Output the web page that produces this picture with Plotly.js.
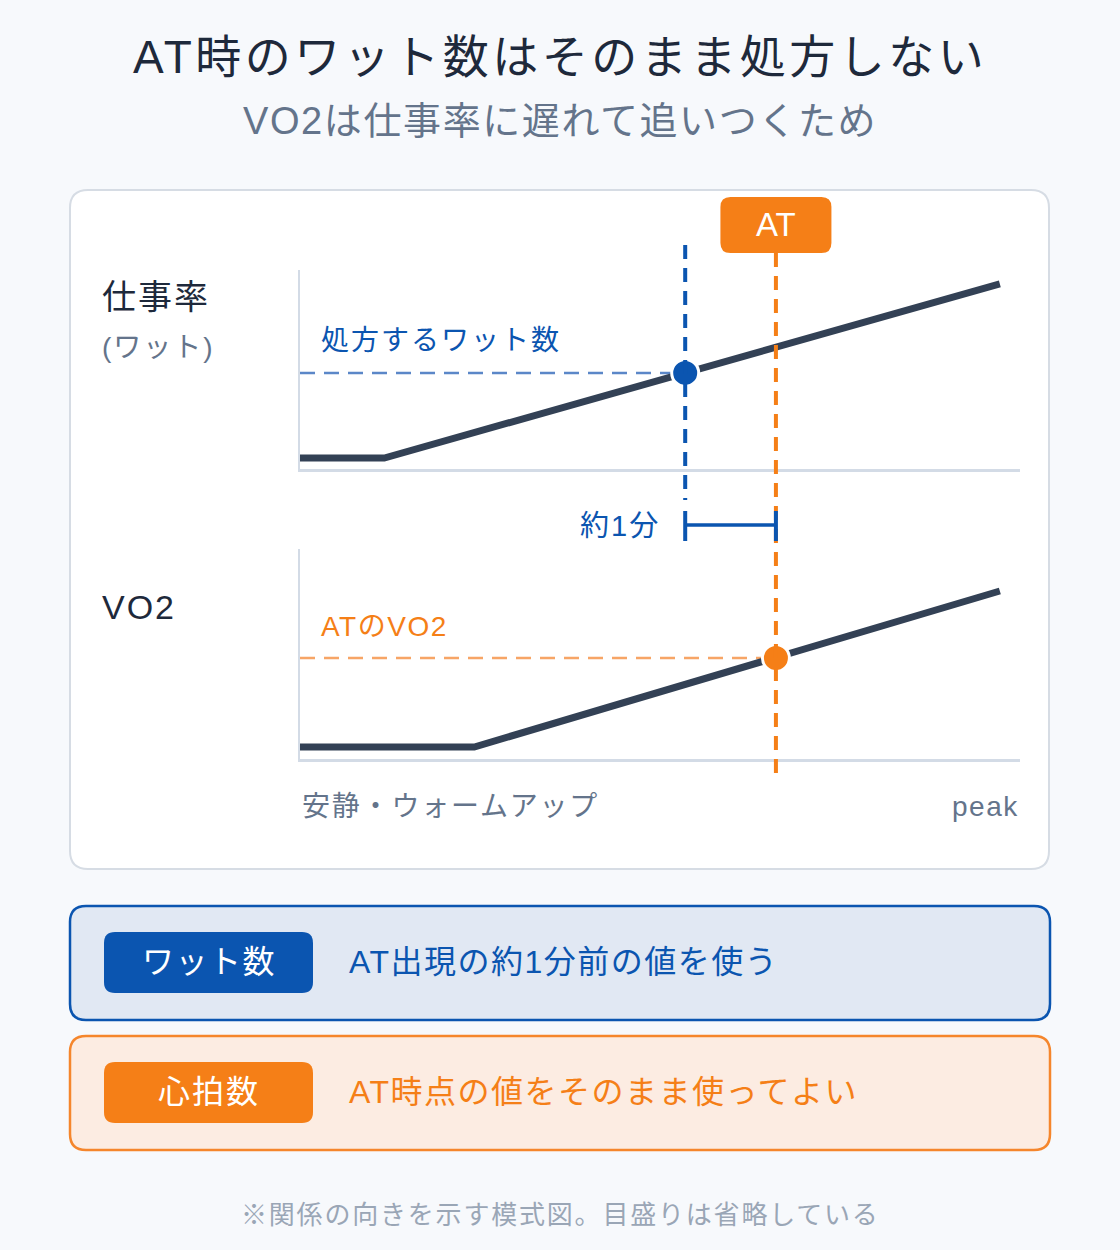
<!DOCTYPE html>
<html>
<head>
<meta charset="utf-8">
<script src="https://cdn.plot.ly/plotly-3.0.1.min.js"></script>
<style>html,body{margin:0;padding:0;background:#f7f9fc;}#chart{width:1120px;height:1250px;}</style>
</head>
<body>
<div id="chart"></div>
<script>
// ---- data (schematic, arbitrary units) ----
const workTime = [0, 1.17, 9.72];
const workRate = [0.55, 0.55, 9.30];
const vo2Time = [0, 2.42, 9.72];
const vo2Values = [0.57, 0.57, 8.00];
const atTime = [6.61];
const prescribeTime = [5.35];
const prescribedWatt = [4.83];
const atVO2 = [4.81];

// ---- texts ----
const titleText = 'AT時のワット数はそのまま処方しない';
const subtitleText = 'VO2は仕事率に遅れて追いつくため';
const topLabel = '仕事率';
const topUnit = '(ワット)';
const bottomLabel = 'VO2';
const prescribeLabel = '処方するワット数';
const atVO2Label = 'ATのVO2';
const lagLabel = '約1分';
const atBadge = 'AT';
const xStartLabel = '安静・ウォームアップ';
const xEndLabel = 'peak';
const rule1Tag = 'ワット数';
const rule1Text = 'AT出現の約1分前の値を使う';
const rule2Tag = '心拍数';
const rule2Text = 'AT時点の値をそのまま使ってよい';
const footnote = '※関係の向きを示す模式図。目盛りは省略している';

// ---- style ----
const W = 1120, H = 1250;
const FONT = '"Liberation Sans", "Noto Sans CJK JP", sans-serif';
const BLUE = '#0b55b0', ORANGE = '#f57f17', DARK = '#1e293b', GRAY = '#64748b', LINE = '#334155';
const PX = x => x / W;
const PY = y => 1 - y / H;

function rrPath(fx, fy, x0, y0, x1, y1, r) {
  return 'M' + fx(x0 + r) + ',' + fy(y0) +
    ' L' + fx(x1 - r) + ',' + fy(y0) +
    ' Q' + fx(x1) + ',' + fy(y0) + ' ' + fx(x1) + ',' + fy(y0 + r) +
    ' L' + fx(x1) + ',' + fy(y1 - r) +
    ' Q' + fx(x1) + ',' + fy(y1) + ' ' + fx(x1 - r) + ',' + fy(y1) +
    ' L' + fx(x0 + r) + ',' + fy(y1) +
    ' Q' + fx(x0) + ',' + fy(y1) + ' ' + fx(x0) + ',' + fy(y1 - r) +
    ' L' + fx(x0) + ',' + fy(y0 + r) +
    ' Q' + fx(x0) + ',' + fy(y0) + ' ' + fx(x0 + r) + ',' + fy(y0) + ' Z';
}
function box(x0, y0, x1, y1, r, fill, line, lw, layer) {
  return {type: 'path', xref: 'paper', yref: 'paper', layer: layer || 'below',
    path: rrPath(PX, PY, x0, y0, x1, y1, r), fillcolor: fill,
    line: {color: line || 'rgba(0,0,0,0)', width: lw || 0}};
}
function ls(t, s) { return '<span style="letter-spacing:' + s + 'px">' + t + '</span>'; }
function ann(text, x, y, size, color, anchor, sp) {
  return {text: ls(text, sp || 0), xref: 'paper', yref: 'paper', x: PX(x), y: PY(y),
    xanchor: anchor || 'left', yanchor: 'middle', showarrow: false,
    font: {family: FONT, size: size, color: color}};
}

const axisCommon = {showgrid: false, zeroline: false, showticklabels: false, ticks: '',
  showline: true, linecolor: '#d3dbe6', linewidth: 2.5, fixedrange: true};

const traces = [
  {x: [0, prescribeTime[0]], y: [prescribedWatt[0], prescribedWatt[0]], xaxis: 'x', yaxis: 'y',
   mode: 'lines', line: {color: '#5b87c8', width: 2.5, dash: '15px,9px'}, hoverinfo: 'skip'},
  {x: [0, atTime[0]], y: [atVO2[0], atVO2[0]], xaxis: 'x2', yaxis: 'y2',
   mode: 'lines', line: {color: '#f7a566', width: 2.5, dash: '15px,9px'}, hoverinfo: 'skip'},
  {x: workTime, y: workRate, xaxis: 'x', yaxis: 'y', mode: 'lines', cliponaxis: false,
   line: {color: LINE, width: 7}, hoverinfo: 'skip'},
  {x: vo2Time, y: vo2Values, xaxis: 'x2', yaxis: 'y2', mode: 'lines', cliponaxis: false,
   line: {color: LINE, width: 7}, hoverinfo: 'skip'},
  {x: prescribeTime, y: prescribedWatt, xaxis: 'x', yaxis: 'y', mode: 'markers', cliponaxis: false,
   marker: {size: 27, color: BLUE, line: {color: '#ffffff', width: 3}}, hoverinfo: 'skip'},
  {x: atTime, y: atVO2, xaxis: 'x2', yaxis: 'y2', mode: 'markers', cliponaxis: false,
   marker: {size: 27, color: ORANGE, line: {color: '#ffffff', width: 3}}, hoverinfo: 'skip'}
];

const shapes = [
  box(70, 190, 1049, 869, 18, '#ffffff', '#d6dce4', 2),
  box(70, 906, 1050, 1020, 16, '#e1e8f3', BLUE, 2.5),
  box(70, 1036, 1050, 1150, 16, '#fcece2', '#f5862c', 2.5),
  box(104, 932, 313, 993, 11, BLUE),
  box(104, 1062, 313, 1123, 11, ORANGE),
  // vertical marker lines
  {type: 'line', layer: 'above', xref: 'x', yref: 'paper', x0: prescribeTime[0], x1: prescribeTime[0],
   y0: PY(245), y1: PY(500), line: {color: BLUE, width: 4, dash: '14px,9px'}},
  {type: 'line', layer: 'above', xref: 'x', yref: 'paper', x0: atTime[0], x1: atTime[0],
   y0: PY(253), y1: PY(777), line: {color: ORANGE, width: 4, dash: '14px,9px'}},
  // ~1 min bracket
  {type: 'line', layer: 'above', xref: 'x', yref: 'paper', x0: prescribeTime[0], x1: atTime[0],
   y0: PY(525), y1: PY(525), line: {color: BLUE, width: 3.5}},
  {type: 'line', layer: 'above', xref: 'x', yref: 'paper', x0: prescribeTime[0], x1: prescribeTime[0],
   y0: PY(511), y1: PY(541), line: {color: BLUE, width: 4}},
  {type: 'line', layer: 'above', xref: 'x', yref: 'paper', x0: atTime[0], x1: atTime[0],
   y0: PY(511), y1: PY(541), line: {color: BLUE, width: 4}},
  // AT badge
  {type: 'path', layer: 'above', xref: 'x', yref: 'paper', xsizemode: 'pixel', xanchor: atTime[0],
   path: rrPath(v => v, PY, -55.5, 197, 55.5, 253, 10), fillcolor: ORANGE, line: {width: 0}}
];

const annotations = [
  ann(titleText, 560, 57, 46, DARK, 'center', 3.5),
  ann(subtitleText, 560, 121, 38, GRAY, 'center', 1.6),
  ann(topLabel, 100, 297, 34, DARK, 'left', 2),
  ann(topUnit, 100, 347, 28, GRAY, 'left', 2),
  ann(bottomLabel, 100, 607, 34, DARK, 'left', 2),
  ann(prescribeLabel, 319, 340, 28, BLUE, 'left', 2),
  ann(atVO2Label, 319, 626, 28, ORANGE, 'left', 1.5),
  ann(lagLabel, 662, 526, 29, BLUE, 'right', 2),
  ann(xStartLabel, 300, 806, 28, GRAY, 'left', 1.8),
  ann(xEndLabel, 1021, 807, 28, GRAY, 'right', 1.5),
  {text: atBadge, xref: 'x', yref: 'paper', x: atTime[0], y: PY(225), xanchor: 'center', yanchor: 'middle',
   showarrow: false, font: {family: FONT, size: 33, color: '#ffffff'}},
  ann(rule1Tag, 208.5, 962, 32, '#ffffff', 'center', 1.5),
  ann(rule1Text, 347, 962, 32, BLUE, 'left', 1.5),
  ann(rule2Tag, 208.5, 1092, 32, '#ffffff', 'center', 2),
  ann(rule2Text, 347, 1092, 32, ORANGE, 'left', 1.5),
  ann(footnote, 560, 1215, 26, '#9aa6b6', 'center', 1.8)
];

const layout = {
  width: W, height: H, margin: {l: 0, r: 0, t: 0, b: 0},
  paper_bgcolor: '#f7f9fc', plot_bgcolor: 'rgba(0,0,0,0)', showlegend: false,
  xaxis: Object.assign({}, axisCommon, {domain: [PX(300), PX(1020)], range: [0, 10], anchor: 'y'}),
  yaxis: Object.assign({}, axisCommon, {domain: [PY(469), PY(270)], range: [0, 10], anchor: 'x'}),
  xaxis2: Object.assign({}, axisCommon, {domain: [PX(300), PX(1020)], range: [0, 10], anchor: 'y2'}),
  yaxis2: Object.assign({}, axisCommon, {domain: [PY(759), PY(549)], range: [0, 10], anchor: 'x2'}),
  shapes: shapes, annotations: annotations
};

Plotly.newPlot('chart', traces, layout, {displayModeBar: false, staticPlot: true});
</script>
</body>
</html>
